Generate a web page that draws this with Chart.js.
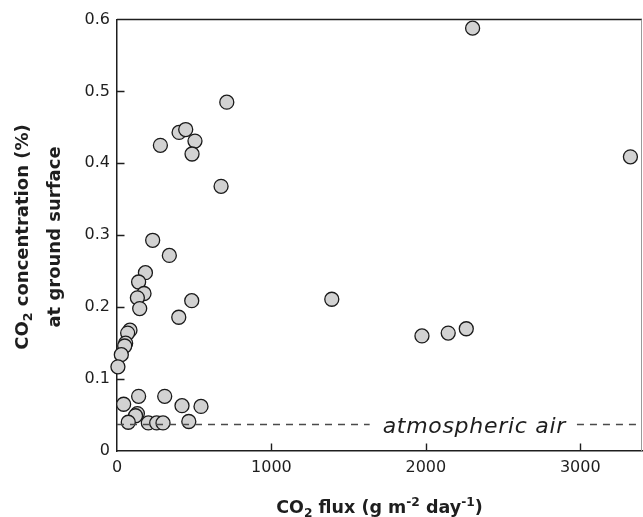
<!DOCTYPE html>
<html><head><meta charset="utf-8">
<script src="https://cdn.jsdelivr.net/npm/chart.js@4.4.1/dist/chart.umd.min.js"></script>
<style>html,body{margin:0;padding:0;background:#fff;}#wrap{width:643px;height:517px;}</style>
</head><body><div id="wrap"><canvas id="c" width="643" height="517"></canvas></div>
<script>
// CO2 flux (g m-2 day-1)
const fluxValues = [711, 281, 402, 445, 505, 486, 674, 231, 339, 184, 140, 175, 132, 147, 484, 400,
  84, 69, 56, 50, 28, 6, 43, 140, 309, 421, 544, 132, 120, 73, 203, 257, 298, 465,
  2303, 3325, 1391, 1975, 2145, 2262];
// CO2 concentration (%) at ground surface
const concValues = [0.485, 0.425, 0.443, 0.447, 0.431, 0.413, 0.368, 0.293, 0.272, 0.248, 0.235, 0.219, 0.213, 0.198, 0.209, 0.186,
  0.168, 0.164, 0.150, 0.146, 0.134, 0.117, 0.065, 0.076, 0.076, 0.063, 0.062, 0.052, 0.049, 0.040, 0.039, 0.039, 0.039, 0.041,
  0.588, 0.409, 0.211, 0.160, 0.164, 0.170];
const xTickValues = [0, 1000, 2000, 3000];
const yTickValues = [0, 0.1, 0.2, 0.3, 0.4, 0.5, 0.6];
const xMin = 0, xMax = 3400, yMin = 0, yMax = 0.6;
const atmosphericLevel = 0.037;
const atmosphericLabel = 'atmospheric air';
const atmosphericLabelX = 2314;
// [text, shift]: 0 normal, -1 subscript, 1 superscript
const xTitleParts = [['CO', 0], ['2', -1], [' flux (g m', 0], ['-2', 1], [' day', 0], ['-1', 1], [')', 0]];
const yTitle1Parts = [['CO', 0], ['2', -1], [' concentration (%)', 0]];
const yTitle2Parts = [['at ground surface', 0]];

const FONT = "'DejaVu Sans'";
const INK = '#1e1e1e';

function richWidth(ctx, parts, size) {
  let w = 0;
  for (const [t, s] of parts) {
    ctx.font = 'bold ' + (s ? size * 0.7 : size) + 'px ' + FONT;
    w += ctx.measureText(t).width;
  }
  return w;
}
function drawRich(ctx, parts, size, cx, baseline) {
  const w = richWidth(ctx, parts, size);
  let x = cx - w / 2;
  ctx.textBaseline = 'alphabetic';
  ctx.textAlign = 'left';
  for (const [t, s] of parts) {
    const fs = s ? size * 0.7 : size;
    ctx.font = 'bold ' + fs + 'px ' + FONT;
    const dy = s === -1 ? size * 0.2 : (s === 1 ? -size * 0.38 : 0);
    ctx.fillText(t, x, baseline + dy);
    x += ctx.measureText(t).width;
  }
}

const framePlugin = {
  id: 'frame',
  afterDatasetsDraw(chart) {
    const ctx = chart.ctx, a = chart.chartArea;
    const xs = chart.scales.x, ys = chart.scales.y;
    ctx.save();
    // atmospheric air reference line with label
    const yy = ys.getPixelForValue(atmosphericLevel);
    const lx = xs.getPixelForValue(atmosphericLabelX);
    ctx.font = 'italic 22px ' + FONT;
    ctx.letterSpacing = '0.7px';
    const tw = ctx.measureText(atmosphericLabel).width;
    const g0 = lx - tw / 2 - 13, g1 = lx + tw / 2 + 11;
    ctx.strokeStyle = '#4a4a4a';
    ctx.lineWidth = 1.5;
    ctx.setLineDash([7, 6]);
    ctx.beginPath();
    ctx.moveTo(a.left, yy); ctx.lineTo(g0, yy);
    ctx.stroke();
    ctx.beginPath();
    ctx.moveTo(g1, yy); ctx.lineTo(a.right, yy);
    ctx.stroke();
    ctx.setLineDash([]);
    ctx.fillStyle = INK;
    ctx.textAlign = 'center';
    ctx.textBaseline = 'alphabetic';
    ctx.fillText(atmosphericLabel, lx, yy + 9);
    ctx.letterSpacing = '0px';
    ctx.restore();
  },
  afterDraw(chart) {
    const ctx = chart.ctx, a = chart.chartArea;
    const xs = chart.scales.x, ys = chart.scales.y;
    ctx.save();
    // top and right frame
    ctx.strokeStyle = INK;
    ctx.lineWidth = 1.5;
    ctx.beginPath();
    ctx.moveTo(a.left, a.top); ctx.lineTo(a.right, a.top);
    ctx.stroke();
    ctx.strokeStyle = '#9a9a9a';
    ctx.lineWidth = 1;
    ctx.beginPath();
    ctx.moveTo(a.right - 0.5, a.top); ctx.lineTo(a.right - 0.5, a.bottom);
    ctx.stroke();
    // inward tick marks
    ctx.strokeStyle = INK;
    ctx.lineWidth = 1.4;
    ctx.beginPath();
    for (const v of xTickValues) {
      if (v === xMin) continue;
      const px = Math.round(xs.getPixelForValue(v)) + 0.5;
      ctx.moveTo(px, a.bottom); ctx.lineTo(px, a.bottom - 7.5);
    }
    for (const v of yTickValues) {
      if (v === yMin || v === yMax) continue;
      const py = Math.round(ys.getPixelForValue(v)) + 0.5;
      ctx.moveTo(a.left, py); ctx.lineTo(a.left + 7.5, py);
    }
    ctx.stroke();
    // axis titles
    ctx.fillStyle = INK;
    drawRich(ctx, xTitleParts, 17.5, (a.left + a.right) / 2, 513);
    const cy = 237;
    ctx.save();
    ctx.translate(28, cy);
    ctx.rotate(-Math.PI / 2);
    drawRich(ctx, yTitle1Parts, 18, 0, 0);
    ctx.restore();
    ctx.save();
    ctx.translate(59.5, cy);
    ctx.rotate(-Math.PI / 2);
    drawRich(ctx, yTitle2Parts, 18, 0, 0);
    ctx.restore();
    ctx.restore();
  }
};

new Chart(document.getElementById('c'), {
  type: 'scatter',
  data: {
    datasets: [{
      data: fluxValues.map((x, i) => ({ x: x, y: concValues[i] })),
      pointRadius: 7,
      pointHoverRadius: 7,
      pointBackgroundColor: '#d2d2d2',
      pointBorderColor: '#1a1a1a',
      pointBorderWidth: 1.3,
      clip: false
    }]
  },
  options: {
    responsive: false,
    animation: false,
    devicePixelRatio: 1,
    layout: { autoPadding: false, padding: { top: 19.5, right: 1, left: 0, bottom: 0 } },
    plugins: { legend: { display: false }, tooltip: { enabled: false } },
    scales: {
      x: {
        type: 'linear', min: xMin, max: xMax,
        afterBuildTicks: s => { s.ticks = xTickValues.map(v => ({ value: v })); },
        afterFit: s => { s.height = 66; },
        grid: { display: false, drawTicks: false },
        border: { display: true, color: INK, width: 1.5 },
        ticks: { color: INK, font: { family: FONT, size: 16 }, padding: 7, maxRotation: 0,
          callback: v => String(v) }
      },
      y: {
        type: 'linear', min: yMin, max: yMax,
        afterBuildTicks: s => { s.ticks = yTickValues.map(v => ({ value: v })); },
        afterFit: s => { s.width = 117; },
        grid: { display: false, drawTicks: false },
        border: { display: true, color: INK, width: 1.5 },
        ticks: { color: INK, font: { family: FONT, size: 16 }, padding: 7,
          callback: v => (v === 0 ? '0' : Number(v).toFixed(1)) }
      }
    }
  },
  plugins: [framePlugin]
});
</script></body></html>
